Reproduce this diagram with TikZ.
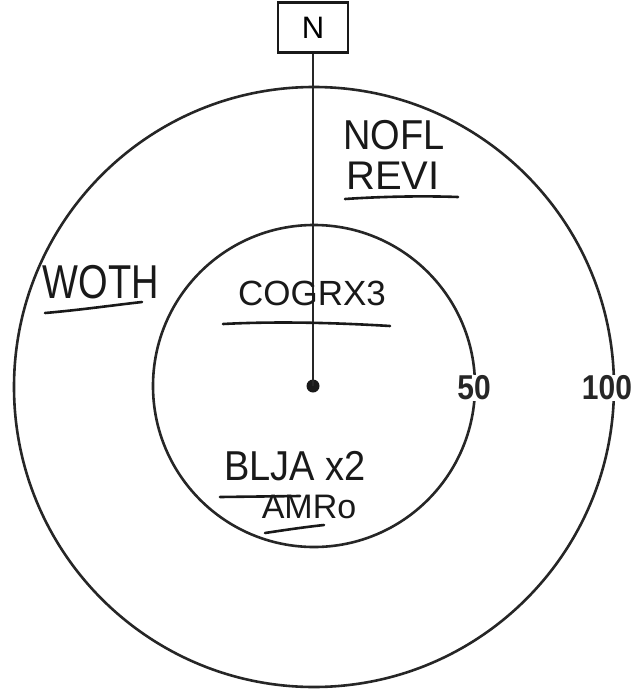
\documentclass[tikz,border=0pt]{standalone}
\usepackage{fontspec}
\setmainfont{Liberation Sans}
\newfontfamily\numfont{Liberation Sans}
\begin{document}
\begin{tikzpicture}[x=1pt,y=-1pt,
  ring/.style={draw=black!85,line width=2.6pt},
  hand/.style={inner sep=0pt,text=black!90},
  uline/.style={draw=black!90,line width=2.6pt,line cap=round},
  dist/.style={fill=white,inner sep=1pt,font=\numfont\bfseries\fontsize{30}{30}\selectfont,text=black!85}]
\useasboundingbox (0,0) rectangle (637,698);
\draw[ring] (314,387) circle[radius=300];
\draw[ring] (314,386) circle[radius=161];
\node[draw=black!90,line width=2.2pt,minimum width=70pt,minimum height=50pt,inner sep=0pt,font=\fontsize{31}{31}\selectfont] (N) at (313,27.5) {N};
\node[circle,fill=black!90,minimum size=13pt,inner sep=0pt] (c) at (313,386) {};
\draw[line width=2pt,black!85] (N.south) -- (c.center);
% handwritten labels
\node[hand,font=\fontsize{38}{38}\selectfont] (nofl) at (394,135) {\scalebox{1}[1.1]{NOFL}};
\node[hand,font=\fontsize{40}{40}\selectfont] (revi) at (393,176) {REVI};
\draw[uline] (345,199) .. controls (390,196) and (430,196) .. (458,197);
\node[hand,font=\fontsize{38}{38}\selectfont] (woth) at (101,282) {\scalebox{1}[1.25]{WOTH}};
\draw[uline] (45,313) .. controls (80,310) and (115,305) .. (142,302);
\node[hand,font=\fontsize{35}{35}\selectfont] (cogr) at (312,293) {COGRX3};
\draw[uline] (223,324) .. controls (280,321) and (340,323) .. (390,326);
\node[hand,font=\fontsize{38}{38}\selectfont] (blja) at (295,466) {\scalebox{1}[1.1]{BLJA x2}};
\draw[uline] (220,497) -- (300,496);
\node[hand,font=\fontsize{34}{34}\selectfont] (amro) at (309,507) {AMRo};
\draw[uline] (265,533) .. controls (285,530) and (305,527) .. (324,525);
\node[dist] (d50) at (474,388) {\scalebox{1}[1.15]{50}};
\node[dist] (d100) at (607,388) {\scalebox{1}[1.15]{100}};
\end{tikzpicture}
\end{document}
